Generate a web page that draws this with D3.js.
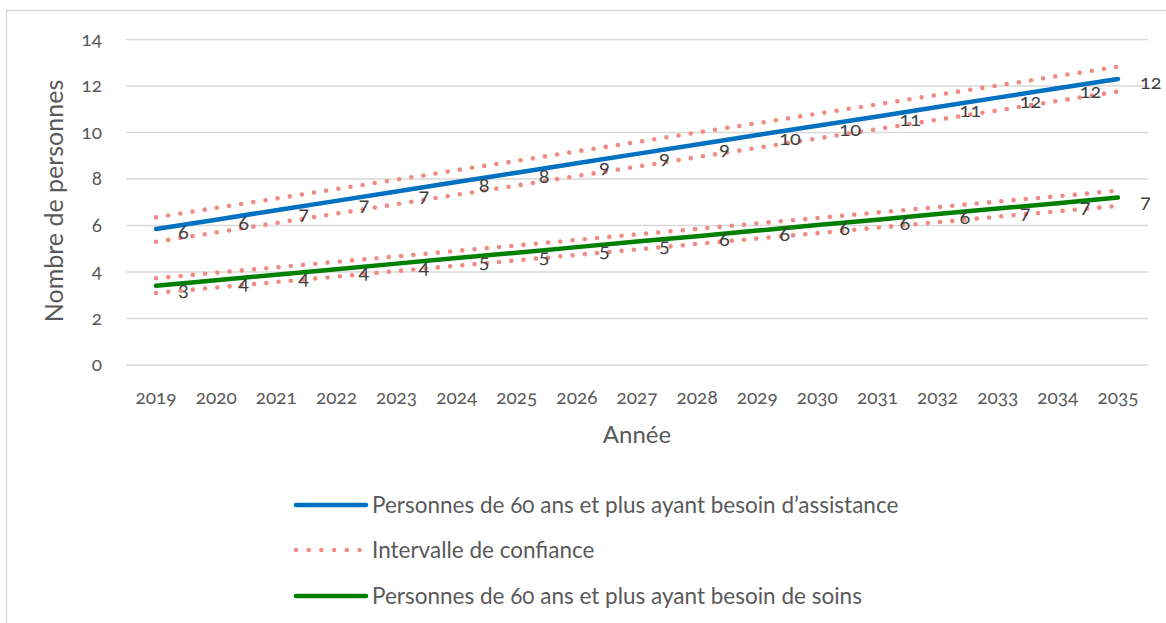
<!DOCTYPE html>
<html>
<head>
<meta charset="utf-8">
<script src="https://cdn.jsdelivr.net/npm/d3@7"></script>
<style>
  body { margin: 0; background: #fff; }
  svg text { font-family: Lato, "Open Sans", sans-serif; font-variant-numeric: oldstyle-nums; }
</style>
</head>
<body>
<script>
// years on the x axis
const years = ["2019","2020","2021","2022","2023","2024","2025","2026","2027","2028","2029","2030","2031","2032","2033","2034","2035"];
const yTicks = [0, 2, 4, 6, 8, 10, 12, 14];

// assistance (blue) + confidence interval
const assistance     = [5.85, 6.25, 6.66, 7.06, 7.46, 7.87, 8.27, 8.68, 9.08, 9.48, 9.89, 10.29, 10.69, 11.10, 11.50, 11.90, 12.30];
const assistanceHigh = [6.35, 6.76, 7.16, 7.57, 7.97, 8.38, 8.78, 9.19, 9.59, 10.00, 10.40, 10.81, 11.21, 11.62, 12.02, 12.43, 12.83];
const assistanceLow  = [5.30, 5.70, 6.11, 6.51, 6.92, 7.32, 7.72, 8.13, 8.53, 8.94, 9.34, 9.74, 10.15, 10.55, 10.95, 11.36, 11.76];

// soins (green) + confidence interval
const soins     = [3.41, 3.65, 3.88, 4.12, 4.36, 4.60, 4.83, 5.07, 5.31, 5.54, 5.78, 6.02, 6.25, 6.49, 6.73, 6.96, 7.20];
const soinsHigh = [3.73, 3.97, 4.20, 4.44, 4.67, 4.91, 5.14, 5.38, 5.62, 5.85, 6.09, 6.32, 6.56, 6.79, 7.03, 7.26, 7.50];
const soinsLow  = [3.10, 3.33, 3.57, 3.80, 4.04, 4.27, 4.50, 4.74, 4.97, 5.21, 5.44, 5.67, 5.91, 6.14, 6.38, 6.61, 6.84];

const legendLabels = [
  "Personnes de 60 ans et plus ayant besoin d\u2019assistance",
  "Intervalle de confiance",
  "Personnes de 60 ans et plus ayant besoin de soins"
];

const BLUE = "#0070c0", GREEN = "#008000", CI = "#f08a84";
const W = 1166, H = 623;
const plot = {left: 126, right: 1148, top: 39.5, bottom: 365};

const svg = d3.select("body").append("svg")
  .attr("width", W)
  .attr("height", H);

// chart area border (left + top only visible)
svg.append("path")
  .attr("d", "M6.5," + H + "V10.5H" + W)
  .attr("fill", "none")
  .attr("stroke", "#d9d9d9")
  .attr("stroke-width", 1.5);

let x = d3.scaleBand().domain(years).range([plot.left, plot.right]);
let y = d3.scaleLinear().domain([0, 14]).range([plot.bottom, plot.top]);
const cx = (d, i) => x(years[i]) + x.bandwidth() / 2;

// gridlines
svg.append("g")
  .selectAll("line")
  .data(yTicks)
  .enter()
  .append("line")
  .attr("x1", plot.left)
  .attr("x2", plot.right)
  .attr("y1", d => y(d))
  .attr("y2", d => y(d))
  .attr("stroke", "#d9d9d9")
  .attr("stroke-width", 1.5);

// y axis labels
let yAxis = d3.axisLeft(y).tickValues(yTicks).tickSize(0).tickPadding(0);
svg.append("g")
  .attr("transform", "translate(102,0)")
  .call(yAxis)
  .call(g => g.select(".domain").remove())
  .selectAll("text")
  .attr("fill", "#595959")
  .attr("font-size", "19px")
  .attr("dy", "0.3em");

// x axis labels
let xAxis = d3.axisBottom(x).tickSize(0).tickPadding(0);
svg.append("g")
  .attr("transform", "translate(0,390)")
  .call(xAxis)
  .call(g => g.select(".domain").remove())
  .selectAll("text")
  .attr("fill", "#595959")
  .attr("font-size", "19px")
  .attr("dy", "0.75em");

// axis titles
svg.append("text")
  .attr("transform", "translate(63,201) rotate(-90)")
  .attr("text-anchor", "middle")
  .attr("font-size", "25px")
  .attr("fill", "#595959")
  .text("Nombre de personnes");

svg.append("text")
  .attr("x", 637)
  .attr("y", 443)
  .attr("text-anchor", "middle")
  .attr("font-size", "24px")
  .attr("fill", "#595959")
  .text("Année");

const line = d3.line().x(cx).y(d => y(d));

// confidence interval lines (dotted)
[assistanceHigh, assistanceLow, soinsHigh, soinsLow].forEach(s => {
  svg.append("path")
    .datum(s)
    .attr("d", line)
    .attr("fill", "none")
    .attr("stroke", CI)
    .attr("stroke-width", 4.6)
    .attr("stroke-linecap", "round")
    .attr("stroke-dasharray", "0 12.3");
});

// main lines
[[assistance, BLUE], [soins, GREEN]].forEach(([s, c]) => {
  svg.append("path")
    .datum(s)
    .attr("d", line)
    .attr("fill", "none")
    .attr("stroke", c)
    .attr("stroke-width", 4.5)
    .attr("stroke-linecap", "round");
});

// data labels (right of the point)
[assistance, soins].forEach(s => {
  svg.append("g")
    .selectAll("text")
    .data(s)
    .enter()
    .append("text")
    .attr("x", (d, i) => cx(d, i) + 22)
    .attr("y", d => y(d) + 3)
    .attr("dy", "0.35em")
    .attr("font-size", "20px")
    .attr("fill", "#404040")
    .text(d => Math.round(d));
});

// legend
const legendY = [505, 550, 596];
const legendStyle = [
  {stroke: BLUE, dash: null},
  {stroke: CI, dash: "0 12.7"},
  {stroke: GREEN, dash: null}
];
legendLabels.forEach((t, i) => {
  svg.append("line")
    .attr("x1", 296)
    .attr("x2", legendStyle[i].dash ? 360 : 366)
    .attr("y1", legendY[i])
    .attr("y2", legendY[i])
    .attr("stroke", legendStyle[i].stroke)
    .attr("stroke-width", 4.5)
    .attr("stroke-linecap", "round")
    .attr("stroke-dasharray", legendStyle[i].dash);
  svg.append("text")
    .attr("x", 372)
    .attr("y", legendY[i])
    .attr("dy", "0.35em")
    .attr("font-size", "22.5px")
    .attr("fill", "#595959")
    .text(t);
});
</script>
</body>
</html>
